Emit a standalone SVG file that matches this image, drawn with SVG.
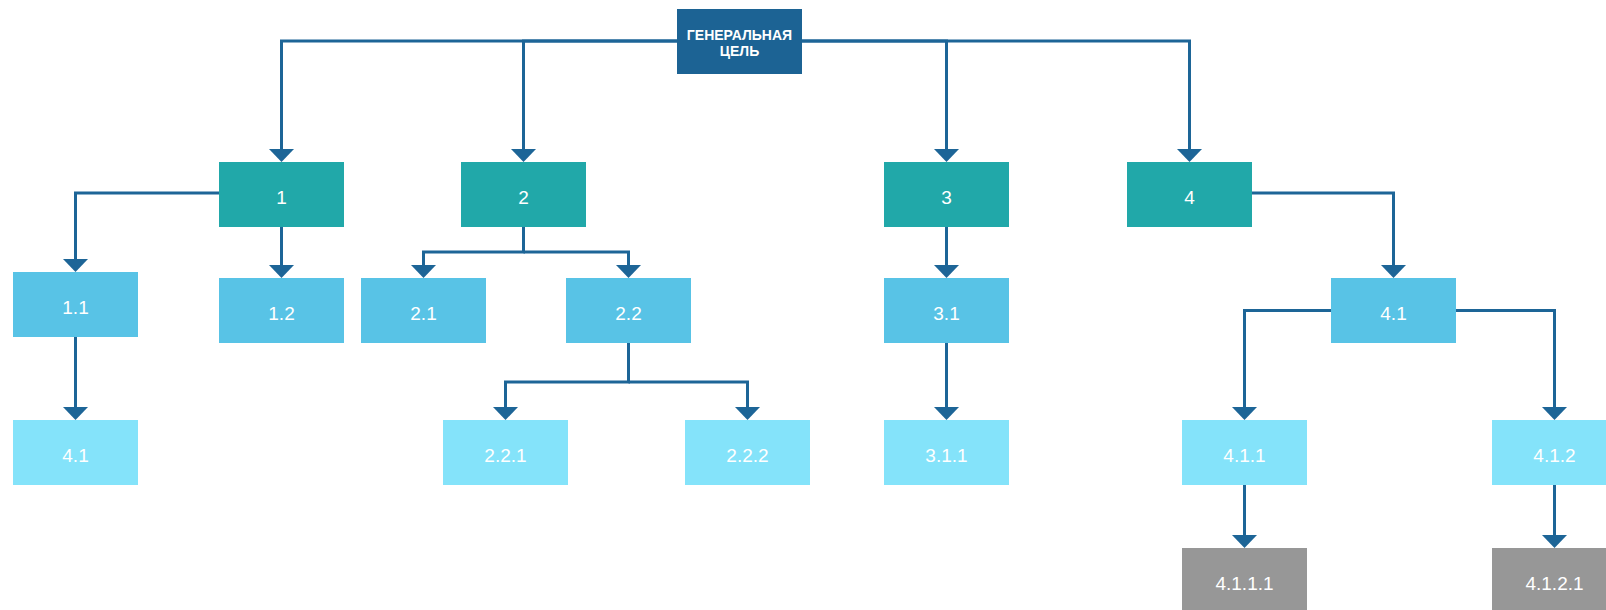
<svg xmlns="http://www.w3.org/2000/svg" width="1606" height="610" viewBox="0 0 1606 610">
<style>
.l0{fill:#1c6394}
.l1{fill:#21a8a9}
.l2{fill:#58c3e6}
.l3{fill:#84e3fa}
.l4{fill:#979797}
.t{font-family:"Liberation Sans",Arial,sans-serif;font-size:19px;fill:#ffffff;text-anchor:middle}
.tr{font-family:"Liberation Sans",Arial,sans-serif;font-size:14px;font-weight:bold;fill:#ffffff;text-anchor:middle}
.c{fill:none;stroke:#1d6597;stroke-width:3;marker-end:url(#arr)}
</style>
<defs>
<marker id="arr" markerUnits="userSpaceOnUse" markerWidth="13" markerHeight="25" viewBox="0 0 13 25" refX="10" refY="12.5" orient="auto">
<path d="M0,0 L13,12.5 L0,25 Z" fill="#1d6597"/>
</marker>
</defs>
<rect width="1606" height="610" fill="#ffffff"/>
<g id="connectors">
<path class="c" d="M739,41 H281.5 V159"/>
<path class="c" d="M739,41 H523.5 V159"/>
<path class="c" d="M739,41 H946.5 V159"/>
<path class="c" d="M739,41 H1189.5 V159"/>
<path class="c" d="M219,193 H75.5 V269"/>
<path class="c" d="M281.5,227 V275"/>
<path class="c" d="M523.5,227 V252 H423.5 V275"/>
<path class="c" d="M523.5,252 H628.5 V275"/>
<path class="c" d="M946.5,227 V275"/>
<path class="c" d="M1252,193 H1393.5 V275"/>
<path class="c" d="M75.5,337 V417"/>
<path class="c" d="M628.5,343 V382 H505.5 V417"/>
<path class="c" d="M628.5,382 H747.5 V417"/>
<path class="c" d="M946.5,343 V417"/>
<path class="c" d="M1331,310.5 H1244.5 V417"/>
<path class="c" d="M1456,310.5 H1554.5 V417"/>
<path class="c" d="M1244.5,485 V545"/>
<path class="c" d="M1554.5,485 V545"/>
</g>
<g id="root"><rect class="l0" x="677" y="9" width="125" height="65"/><text class="tr" x="739.5" y="39.5">ГЕНЕРАЛЬНАЯ</text><text class="tr" x="739.5" y="56">ЦЕЛЬ</text></g>
<g id="n1"><rect class="l1" x="219" y="162" width="125" height="65"/><text class="t" x="281.5" y="203.5">1</text></g>
<g id="n2"><rect class="l1" x="461" y="162" width="125" height="65"/><text class="t" x="523.5" y="203.5">2</text></g>
<g id="n3"><rect class="l1" x="884" y="162" width="125" height="65"/><text class="t" x="946.5" y="203.5">3</text></g>
<g id="n4"><rect class="l1" x="1127" y="162" width="125" height="65"/><text class="t" x="1189.5" y="203.5">4</text></g>
<g id="n1_1"><rect class="l2" x="13" y="272" width="125" height="65"/><text class="t" x="75.5" y="313.5">1.1</text></g>
<g id="n1_2"><rect class="l2" x="219" y="278" width="125" height="65"/><text class="t" x="281.5" y="319.5">1.2</text></g>
<g id="n2_1"><rect class="l2" x="361" y="278" width="125" height="65"/><text class="t" x="423.5" y="319.5">2.1</text></g>
<g id="n2_2"><rect class="l2" x="566" y="278" width="125" height="65"/><text class="t" x="628.5" y="319.5">2.2</text></g>
<g id="n3_1"><rect class="l2" x="884" y="278" width="125" height="65"/><text class="t" x="946.5" y="319.5">3.1</text></g>
<g id="n4_1"><rect class="l2" x="1331" y="278" width="125" height="65"/><text class="t" x="1393.5" y="319.5">4.1</text></g>
<g id="n1_1_a"><rect class="l3" x="13" y="420" width="125" height="65"/><text class="t" x="75.5" y="461.5">4.1</text></g>
<g id="n2_2_1"><rect class="l3" x="443" y="420" width="125" height="65"/><text class="t" x="505.5" y="461.5">2.2.1</text></g>
<g id="n2_2_2"><rect class="l3" x="685" y="420" width="125" height="65"/><text class="t" x="747.5" y="461.5">2.2.2</text></g>
<g id="n3_1_1"><rect class="l3" x="884" y="420" width="125" height="65"/><text class="t" x="946.5" y="461.5">3.1.1</text></g>
<g id="n4_1_1"><rect class="l3" x="1182" y="420" width="125" height="65"/><text class="t" x="1244.5" y="461.5">4.1.1</text></g>
<g id="n4_1_2"><rect class="l3" x="1492" y="420" width="125" height="65"/><text class="t" x="1554.5" y="461.5">4.1.2</text></g>
<g id="n4_1_1_1"><rect class="l4" x="1182" y="548" width="125" height="65"/><text class="t" x="1244.5" y="589.5">4.1.1.1</text></g>
<g id="n4_1_2_1"><rect class="l4" x="1492" y="548" width="125" height="65"/><text class="t" x="1554.5" y="589.5">4.1.2.1</text></g>
</svg>
